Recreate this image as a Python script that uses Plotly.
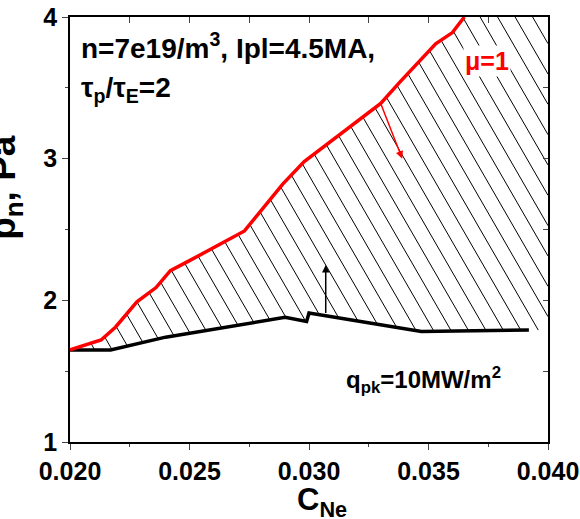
import plotly.graph_objects as go

# ---- data ----
c_mu1 = [0.0200, 0.0213, 0.0219, 0.0228, 0.0236, 0.0242, 0.0250, 0.0273, 0.0289, 0.0298, 0.0330, 0.0338, 0.0353, 0.0360, 0.0365]
p_mu1 = [1.65, 1.72, 1.81, 1.99, 2.09, 2.21, 2.28, 2.49, 2.82, 2.98, 3.39, 3.54, 3.81, 3.89, 4.00]

c_qpk = [0.0200, 0.0217, 0.0240, 0.0290, 0.0299, 0.0300, 0.0347, 0.0392]
p_qpk = [1.65, 1.65, 1.74, 1.88, 1.85, 1.91, 1.78, 1.79]

x_range = [0.020, 0.040]
y_range = [1, 4]
x_ticks = [0.020, 0.025, 0.030, 0.035, 0.040]
x_ticklabels = ["0.020", "0.025", "0.030", "0.035", "0.040"]
y_ticks = [1, 2, 3, 4]

# arrows: (tail_x, tail_y, head_x, head_y)
arrow_qpk = (0.0307, 1.90, 0.0307, 2.25)
arrow_mu1 = (0.0330, 3.39, 0.0339, 3.00)

FONT = "Liberation Sans, Arial, sans-serif"

# ---- figure geometry ----
W, H = 580, 519
M = dict(l=70, r=32, t=17, b=77)
PW = W - M["l"] - M["r"]
PH = H - M["t"] - M["b"]
xs = x_range[1] - x_range[0]
ys = y_range[1] - y_range[0]


def to_px(c, p):
    return M["l"] + (c - x_range[0]) / xs * PW, M["t"] + (y_range[1] - p) / ys * PH


def to_data(x, y):
    return x_range[0] + (x - M["l"]) / PW * xs, y_range[1] - (y - M["t"]) / PH * ys


# hatched allowed region polygon: under mu=1, above qpk, out to the right edge
poly_c = c_mu1 + [x_range[1], x_range[1]] + c_qpk[::-1]
poly_p = p_mu1 + [y_range[1], p_qpk[-1]] + p_qpk[::-1]
poly = [to_px(c, p) for c, p in zip(poly_c, poly_p)]

# hatch: parallel lines at 60 deg (down-right), clipped to the polygon
COT = 0.577
SPACING = 17.5
U0 = -2.2
us = [x - COT * y for x, y in poly]
hx, hy = [], []
n_lo = int((min(us) - U0) // SPACING) - 1
n_hi = int((max(us) - U0) // SPACING) + 2
for n in range(n_lo, n_hi):
    k = U0 + n * SPACING
    cuts = []
    for i in range(len(poly)):
        (x1, y1), (x2, y2) = poly[i], poly[(i + 1) % len(poly)]
        u1, u2 = us[i], us[(i + 1) % len(poly)]
        if (u1 <= k < u2) or (u2 <= k < u1):
            t = (k - u1) / (u2 - u1)
            cuts.append(y1 + t * (y2 - y1))
    cuts.sort()
    for j in range(0, len(cuts) - 1, 2):
        for yy in (cuts[j], cuts[j + 1]):
            c, p = to_data(k + COT * yy, yy)
            hx.append(c)
            hy.append(p)
        hx.append(None)
        hy.append(None)

fig = go.Figure()
fig.add_trace(go.Scatter(x=hx, y=hy, mode="lines", line=dict(color="black", width=1),
                         hoverinfo="skip", showlegend=False))
fig.add_trace(go.Scatter(x=c_qpk, y=p_qpk, mode="lines",
                         line=dict(color="black", width=3.5), showlegend=False))
fig.add_trace(go.Scatter(x=c_mu1, y=p_mu1, mode="lines",
                         line=dict(color="#ff0000", width=3.5), showlegend=False))
# invisible trace for the mirrored (top/right) axes
fig.add_trace(go.Scatter(x=x_range, y=y_range, xaxis="x2", yaxis="y2", mode="none",
                         showlegend=False, hoverinfo="skip"))

tickfont = dict(family=FONT, size=25, color="black", weight="bold")

fig.update_layout(
    width=W, height=H,
    margin=dict(M, autoexpand=False),
    plot_bgcolor="white", paper_bgcolor="white",
    xaxis=dict(range=x_range, tickvals=x_ticks, ticktext=x_ticklabels, ticks="outside",
               ticklen=6, tickwidth=1.2, showline=True, linecolor="black", linewidth=1.5,
               showgrid=False, zeroline=False, tickfont=tickfont, automargin=False,
               minor=dict(ticks="outside", ticklen=3, tickwidth=1.2, dtick=0.0025, tick0=0.02)),
    yaxis=dict(range=y_range, tickvals=y_ticks, ticks="outside",
               ticklen=6, tickwidth=1.2, showline=True, linecolor="black", linewidth=1.5,
               showgrid=False, zeroline=False, tickfont=tickfont, automargin=False,
               minor=dict(ticks="outside", ticklen=3, tickwidth=1.2, dtick=0.5, tick0=1)),
    xaxis2=dict(range=x_range, overlaying="x", side="top", anchor="y", ticks="inside",
                tickvals=[0.0225, 0.025, 0.0275, 0.030, 0.0325, 0.035, 0.0375],
                ticklen=6, tickwidth=1.2, showline=True, linecolor="black", linewidth=1.5,
                showticklabels=False, showgrid=False, zeroline=False, automargin=False),
    yaxis2=dict(range=y_range, overlaying="y", side="right", anchor="x", ticks="inside",
                tickvals=[1.5, 2, 2.5, 3, 3.5],
                ticklen=5, tickwidth=1.2, showline=True, linecolor="black", linewidth=1.5,
                showticklabels=False, showgrid=False, zeroline=False, automargin=False),
)

ann_font = dict(family=FONT, size=28, color="black")
annotations = [
    dict(text="<b>n=7e19/m<sup>3</sup>, Ipl=4.5MA,</b>", xref="paper", yref="paper",
         x=0.018, y=0.932, xanchor="left", yanchor="middle", showarrow=False, font=ann_font),
    dict(text="<b>τ<sub>p</sub>/τ<sub>E</sub>=2</b>", xref="paper", yref="paper",
         x=0.018, y=0.83, xanchor="left", yanchor="middle", showarrow=False, font=ann_font),
    dict(text="<b>μ=1</b>", xref="paper", yref="paper",
         x=0.873, y=0.896, xanchor="center", yanchor="middle", showarrow=False,
         bgcolor="white", font=dict(family=FONT, size=25, color="#ff0000")),
    dict(text="<b>q<sub>pk</sub>=10MW/m<sup>2</sup></b>", xref="paper", yref="paper",
         x=0.74, y=0.146, xanchor="center", yanchor="middle", showarrow=False,
         font=dict(family=FONT, size=24, color="black")),
    dict(text="<b>p<sub>n</sub>, Pa</b>", xref="paper", yref="paper", textangle=-90,
         x=0, xshift=-65, y=0.598, xanchor="center", yanchor="middle", showarrow=False,
         font=dict(family=FONT, size=37, color="black")),
    dict(text="<b>C<sub>Ne</sub></b>", xref="paper", yref="paper",
         x=0.528, y=-0.142, xanchor="center", yanchor="middle", showarrow=False,
         font=dict(family=FONT, size=31, color="black")),
    dict(x=arrow_qpk[2], y=arrow_qpk[3], ax=arrow_qpk[0], ay=arrow_qpk[1],
         xref="x", yref="y", axref="x", ayref="y", text="", showarrow=True,
         arrowhead=2, arrowsize=1, arrowwidth=1.5, arrowcolor="black"),
    dict(x=arrow_mu1[2], y=arrow_mu1[3], ax=arrow_mu1[0], ay=arrow_mu1[1],
         xref="x", yref="y", axref="x", ayref="y", text="", showarrow=True,
         arrowhead=2, arrowsize=1, arrowwidth=1.5, arrowcolor="#ff0000"),
]
fig.update_layout(annotations=annotations)

fig.write_html("out.html", config={"displayModeBar": False},
               post_script="document.body.style.margin='0';")
